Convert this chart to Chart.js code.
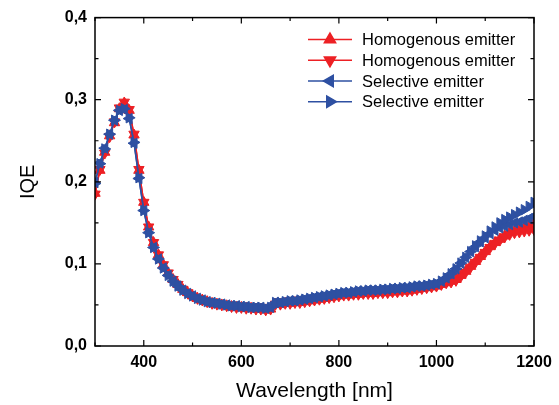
<!DOCTYPE html>
<html lang="en">
<head>
<meta charset="UTF-8">
<title>IQE vs wavelength</title>
<script src="https://cdn.jsdelivr.net/npm/chart.js@4.4.5/dist/chart.umd.min.js"></script>
<style>
  html, body { margin: 0; padding: 0; background: #fff; }
  #wrap { width: 559px; height: 405px; }
</style>
</head>
<body>
<div id="wrap"><canvas id="myChart" width="559" height="405"></canvas></div>
<script>
// wavelength, nm (10 nm steps)
const wavelengths = [];
for (let w = 300; w <= 1200; w += 10) wavelengths.push(w);

const homogenousUp = [
  0.186, 0.214, 0.236, 0.256, 0.272, 0.289, 0.296, 0.287, 0.257, 0.214,
  0.175, 0.145, 0.126, 0.111, 0.099, 0.089, 0.081, 0.075, 0.069, 0.065,
  0.061, 0.058, 0.056, 0.054, 0.052, 0.051, 0.050, 0.049, 0.048, 0.047,
  0.047, 0.046, 0.046, 0.045, 0.045, 0.044, 0.045, 0.051, 0.051, 0.052,
  0.052, 0.053, 0.053, 0.054, 0.055, 0.056, 0.057, 0.058, 0.059, 0.060,
  0.061, 0.062, 0.062, 0.063, 0.063, 0.064, 0.064, 0.064, 0.065, 0.065,
  0.065, 0.066, 0.066, 0.067, 0.067, 0.068, 0.069, 0.070, 0.071, 0.072,
  0.073, 0.075, 0.077, 0.079, 0.081, 0.086, 0.091, 0.097, 0.103, 0.109,
  0.115, 0.121, 0.126, 0.130, 0.134, 0.138, 0.140, 0.142, 0.144, 0.146,
  0.150
];
const homogenousDown = [
  0.185, 0.215, 0.235, 0.255, 0.273, 0.290, 0.297, 0.288, 0.258, 0.215,
  0.175, 0.145, 0.126, 0.111, 0.099, 0.089, 0.081, 0.075, 0.069, 0.065,
  0.061, 0.058, 0.056, 0.054, 0.052, 0.051, 0.050, 0.049, 0.048, 0.047,
  0.047, 0.046, 0.046, 0.045, 0.045, 0.044, 0.045, 0.051, 0.051, 0.052,
  0.052, 0.053, 0.053, 0.054, 0.055, 0.056, 0.057, 0.058, 0.059, 0.060,
  0.061, 0.062, 0.062, 0.063, 0.063, 0.064, 0.064, 0.064, 0.065, 0.065,
  0.065, 0.066, 0.066, 0.067, 0.067, 0.068, 0.069, 0.070, 0.071, 0.072,
  0.073, 0.075, 0.077, 0.078, 0.080, 0.085, 0.090, 0.096, 0.102, 0.108,
  0.114, 0.120, 0.125, 0.129, 0.133, 0.136, 0.138, 0.139, 0.140, 0.141,
  0.142
];
const selectiveLeft = [
  0.199, 0.223, 0.241, 0.258, 0.275, 0.287, 0.288, 0.277, 0.247, 0.204,
  0.165, 0.138, 0.120, 0.106, 0.095, 0.086, 0.079, 0.073, 0.068, 0.064,
  0.061, 0.058, 0.056, 0.054, 0.053, 0.052, 0.051, 0.050, 0.049, 0.049,
  0.048, 0.048, 0.047, 0.047, 0.047, 0.046, 0.047, 0.053, 0.053, 0.054,
  0.055, 0.055, 0.056, 0.057, 0.058, 0.059, 0.060, 0.061, 0.062, 0.063,
  0.064, 0.065, 0.065, 0.066, 0.067, 0.067, 0.068, 0.068, 0.068, 0.069,
  0.069, 0.070, 0.070, 0.071, 0.071, 0.072, 0.073, 0.073, 0.074, 0.075,
  0.076, 0.079, 0.083, 0.088, 0.094, 0.101, 0.108, 0.115, 0.121, 0.127,
  0.132, 0.137, 0.141, 0.144, 0.146, 0.148, 0.150, 0.151, 0.153, 0.155,
  0.158
];
const selectiveRight = [
  0.198, 0.222, 0.240, 0.258, 0.275, 0.287, 0.289, 0.278, 0.248, 0.205,
  0.165, 0.138, 0.120, 0.106, 0.095, 0.086, 0.079, 0.073, 0.068, 0.064,
  0.061, 0.058, 0.056, 0.054, 0.053, 0.052, 0.051, 0.050, 0.049, 0.049,
  0.048, 0.048, 0.047, 0.047, 0.047, 0.046, 0.047, 0.053, 0.053, 0.054,
  0.055, 0.055, 0.056, 0.057, 0.058, 0.059, 0.060, 0.061, 0.062, 0.063,
  0.064, 0.065, 0.065, 0.066, 0.067, 0.067, 0.068, 0.068, 0.068, 0.069,
  0.069, 0.070, 0.070, 0.071, 0.071, 0.072, 0.073, 0.073, 0.074, 0.075,
  0.076, 0.079, 0.083, 0.088, 0.094, 0.101, 0.108, 0.115, 0.122, 0.128,
  0.134, 0.140, 0.145, 0.150, 0.154, 0.157, 0.160, 0.163, 0.166, 0.170,
  0.175
];

const seriesNames = ['Homogenous emitter', 'Homogenous emitter', 'Selective emitter', 'Selective emitter'];
const RED = 'rgb(237, 32, 36)';
const BLUE = 'rgb(46, 80, 162)';
const FONT = '"Liberation Sans", Arial, sans-serif';

function pts(values) {
    return values.map(function (v, i) { return { x: wavelengths[i], y: v }; });
}

function makeSet(label, values, color, rotation, order) {
    return {
        label: label,
        data: pts(values),
        borderColor: color,
        backgroundColor: color,
        borderWidth: 1.5,
        pointStyle: 'triangle',
        pointRotation: rotation,
        pointRadius: 6,
        pointBorderWidth: 1,
        pointBorderColor: color,
        pointBackgroundColor: color,
        tension: 0,
        fill: false,
        order: order
    };
}

// ticks pointing inwards on all four sides, plus the frame and the legend
const frameAndLegend = {
    id: 'frameAndLegend',
    afterDraw: function (chart) {
        const ctx = chart.ctx;
        const a = chart.chartArea;
        const xs = chart.scales.x;
        const ys = chart.scales.y;
        ctx.save();
        ctx.strokeStyle = '#000';
        ctx.lineWidth = 1.5;
        ctx.strokeRect(a.left, a.top, a.right - a.left, a.bottom - a.top);

        ctx.lineWidth = 1.2;
        ctx.beginPath();
        for (let w = 300; w <= 1200; w += 100) {
            const x = xs.getPixelForValue(w);
            const len = (w % 200 === 0) ? 6 : 3.5;
            ctx.moveTo(x, a.bottom); ctx.lineTo(x, a.bottom - len);
            ctx.moveTo(x, a.top); ctx.lineTo(x, a.top + len);
        }
        for (let k = 0; k <= 8; k++) {
            const y = ys.getPixelForValue(k * 0.05);
            const len = (k % 2 === 0) ? 6 : 3.5;
            ctx.moveTo(a.left, y); ctx.lineTo(a.left + len, y);
            ctx.moveTo(a.right, y); ctx.lineTo(a.right - len, y);
        }
        ctx.stroke();

        // legend: line with marker, then label
        const sets = chart.data.datasets;
        const x0 = a.right - 226, x1 = a.right - 182, xm = (x0 + x1) / 2;
        ctx.font = '16.5px ' + FONT;
        ctx.textBaseline = 'middle';
        ctx.textAlign = 'left';
        for (let i = 0; i < sets.length; i++) {
            const ds = sets[i];
            const y = a.top + 22 + i * 20.7;
            ctx.strokeStyle = ds.borderColor;
            ctx.lineWidth = 1.5;
            ctx.beginPath();
            ctx.moveTo(x0, y); ctx.lineTo(x1, y);
            ctx.stroke();
            ctx.fillStyle = ds.backgroundColor;
            Chart.helpers.drawPoint(ctx, {
                pointStyle: 'triangle', radius: 6.5, rotation: ds.pointRotation, borderWidth: 1
            }, xm, y);
            ctx.fillStyle = '#000';
            ctx.fillText(ds.label, x1 + 10, y + 1);
        }
        ctx.restore();
    }
};

const config = {
    type: 'line',
    data: {
        datasets: [
            makeSet(seriesNames[0], homogenousUp, RED, 0, 3),
            makeSet(seriesNames[1], homogenousDown, RED, 180, 2),
            makeSet(seriesNames[2], selectiveLeft, BLUE, 270, 1),
            makeSet(seriesNames[3], selectiveRight, BLUE, 90, 0)
        ]
    },
    options: {
        responsive: false,
        animation: false,
        layout: { padding: { top: 16, right: 25, bottom: 0, left: 0 } },
        scales: {
            x: {
                type: 'linear',
                min: 300,
                max: 1200,
                grid: { display: false, drawTicks: false },
                border: { display: false },
                ticks: {
                    stepSize: 100,
                    autoSkip: false,
                    maxRotation: 0,
                    padding: 7,
                    color: '#000',
                    font: { family: FONT, size: 16, weight: 'bold' },
                    callback: function (v) { return (v % 200 === 0) ? String(v) : ''; }
                },
                title: {
                    display: true,
                    text: 'Wavelength [nm]',
                    color: '#000',
                    font: { family: FONT, size: 21 },
                    padding: { top: 0, bottom: 1 }
                },
                afterFit: function (scale) { scale.height = 59; }
            },
            y: {
                min: 0,
                max: 0.4,
                grid: { display: false, drawTicks: false },
                border: { display: false },
                ticks: {
                    stepSize: 0.05,
                    autoSkip: false,
                    padding: 8,
                    color: '#000',
                    font: { family: FONT, size: 16, weight: 'bold' },
                    callback: function (v) {
                        const t = v * 10;
                        if (Math.abs(t - Math.round(t)) > 1e-6) return '';
                        return v.toFixed(1).replace('.', ',');
                    }
                },
                title: {
                    display: true,
                    text: 'IQE',
                    color: '#000',
                    font: { family: FONT, size: 20 },
                    padding: { top: 16, bottom: 10 }
                },
                afterFit: function (scale) { scale.width = 95; }
            }
        },
        plugins: {
            legend: { display: false },
            tooltip: { enabled: false }
        }
    },
    plugins: [frameAndLegend]
};

const ctx = document.getElementById('myChart').getContext('2d');
const myChart = new Chart(ctx, config);
</script>
</body>
</html>
